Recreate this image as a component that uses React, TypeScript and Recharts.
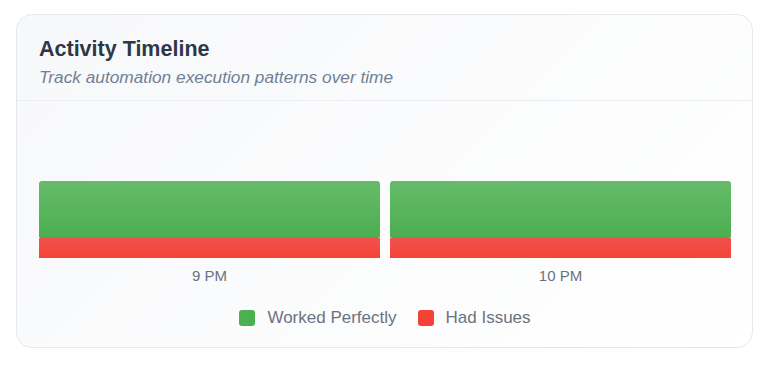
import React from 'react';
import { BarChart, Bar, XAxis, YAxis, Legend } from 'recharts';

const hours = ['9 PM', '10 PM'];
const workedPerfectly = [8, 8];
const hadIssues = [3, 3];

const chartData = hours.map((hour, i) => ({
  hour,
  success: workedPerfectly[i],
  issues: hadIssues[i],
}));

const FONT = '"Liberation Sans", Arial, sans-serif';

const legendItems = [
  { label: 'Worked Perfectly', color: '#4caf50' },
  { label: 'Had Issues', color: '#f44336' },
];

const renderLegend = () => (
  <div style={{ display: 'flex', justifyContent: 'center', gap: 21, height: 24, alignItems: 'center' }}>
    {legendItems.map((item) => (
      <span key={item.label} style={{ display: 'flex', alignItems: 'center', gap: 12, fontSize: 17, color: '#6b7280', fontFamily: FONT }}>
        <span style={{ width: 16, height: 16, borderRadius: 3, background: item.color, display: 'inline-block' }} />
        {item.label}
      </span>
    ))}
  </div>
);

export default function App() {
  return (
    <div
      style={{
        margin: '6px 0 0 8px',
        width: 737,
        height: 334,
        boxSizing: 'border-box',
        border: '1px solid #e6e8ec',
        borderRadius: 16,
        background: 'linear-gradient(135deg, #f7f8fa 0%, #ffffff 100%)',
        fontFamily: FONT,
        overflow: 'hidden',
      }}
    >
      <div style={{ padding: '22px 22px 0 22px', height: 86, boxSizing: 'border-box', borderBottom: '1px solid #eceef2' }}>
        <div style={{ fontSize: 21.5, fontWeight: 700, color: '#2d3748', lineHeight: '24px' }}>Activity Timeline</div>
        <div style={{ fontSize: 17.3, fontStyle: 'italic', color: '#718096', marginTop: 6, lineHeight: '20px' }}>
          Track automation execution patterns over time
        </div>
      </div>
      <BarChart
        width={735}
        height={246}
        data={chartData}
        barCategoryGap={5}
        margin={{ top: 73, right: 16, bottom: 17, left: 17 }}
      >
        <defs>
          <linearGradient id="gradSuccess" x1="0" y1="0" x2="0" y2="1">
            <stop offset="0%" stopColor="#66bb6a" />
            <stop offset="100%" stopColor="#4caf50" />
          </linearGradient>
          <linearGradient id="gradIssues" x1="0" y1="0" x2="0" y2="1">
            <stop offset="0%" stopColor="#ef5350" />
            <stop offset="100%" stopColor="#f44336" />
          </linearGradient>
        </defs>
        <XAxis
          dataKey="hour"
          axisLine={false}
          tickLine={false}
          tickMargin={6}
          height={48}
          tick={{ fill: '#6b7280', fontSize: 15, fontFamily: FONT }}
        />
        <YAxis hide domain={[0, 12]} />
        <Legend verticalAlign="bottom" content={renderLegend} />
        <Bar dataKey="issues" stackId="a" fill="url(#gradIssues)" radius={[2, 2, 0, 0]} isAnimationActive={false} />
        <Bar dataKey="success" stackId="a" fill="url(#gradSuccess)" radius={[3, 3, 0, 0]} isAnimationActive={false} />
      </BarChart>
    </div>
  );
}
